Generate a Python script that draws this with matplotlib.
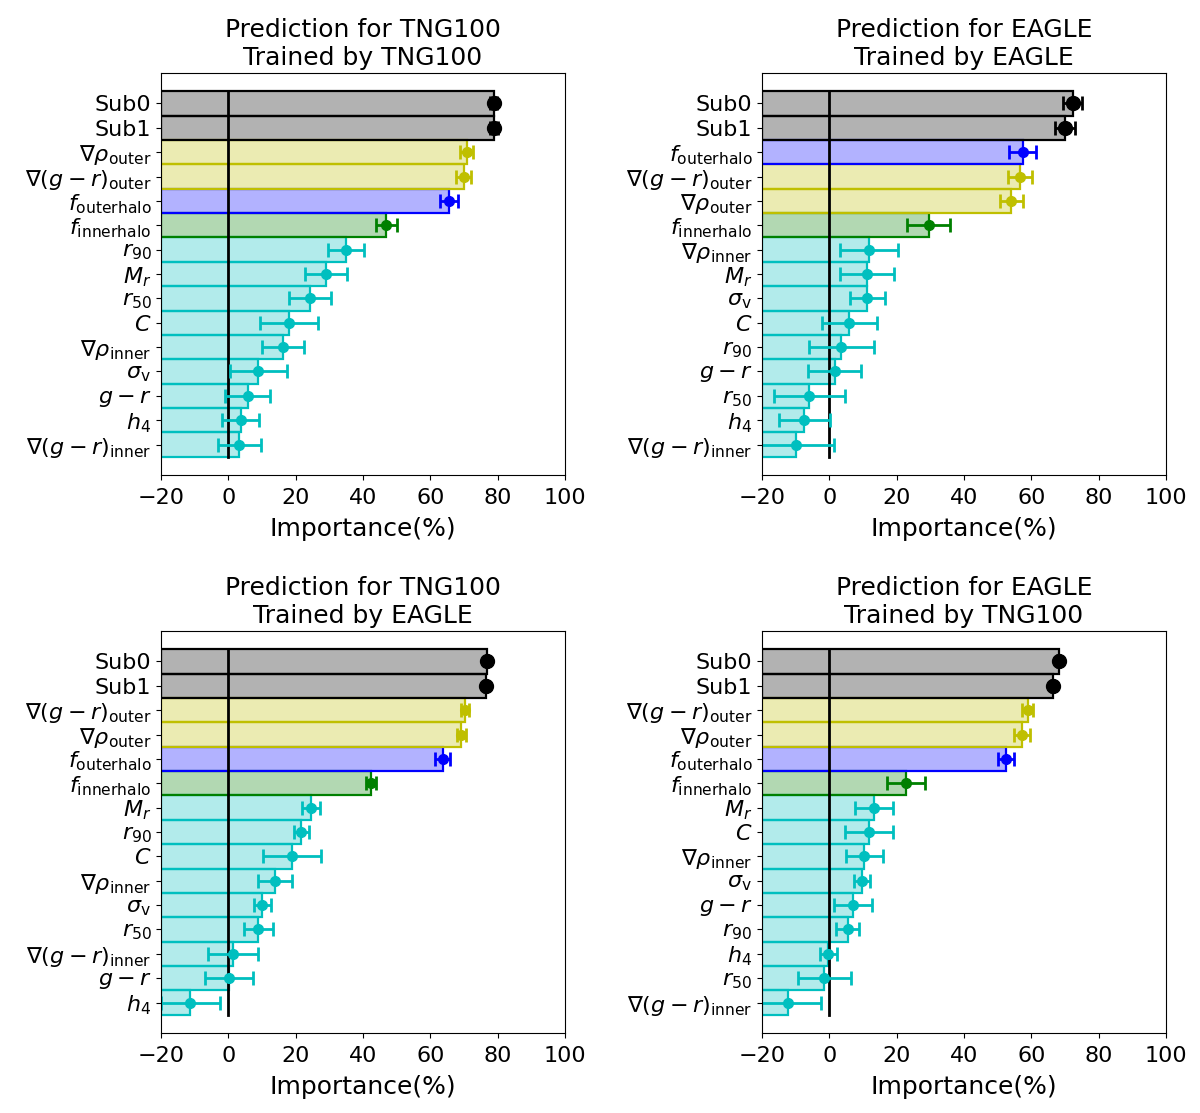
import matplotlib
matplotlib.use("Agg")
import matplotlib.pyplot as plt
from matplotlib.colors import to_rgba

# feature keys -> tick text and colour
TEX = {
    'sub0': 'Sub0',
    'sub1': 'Sub1',
    'grho_out': r'$\nabla\rho_{\rm outer}$',
    'ggr_out': r'$\nabla(g-r)_{\rm outer}$',
    'f_out': r'$f_{\rm outerhalo}$',
    'f_in': r'$f_{\rm innerhalo}$',
    'r90': r'$r_{90}$',
    'Mr': r'$M_r$',
    'r50': r'$r_{50}$',
    'C': r'$C$',
    'grho_in': r'$\nabla\rho_{\rm inner}$',
    'sigv': r'$\sigma_{\rm v}$',
    'gr': r'$g-r$',
    'h4': r'$h_4$',
    'ggr_in': r'$\nabla(g-r)_{\rm inner}$',
}
COL = {'sub0': 'k', 'sub1': 'k', 'grho_out': 'y', 'ggr_out': 'y',
       'f_out': 'b', 'f_in': 'g'}

# top to bottom, as shown in each panel
feat_tt = ['sub0', 'sub1', 'grho_out', 'ggr_out', 'f_out', 'f_in', 'r90', 'Mr',
           'r50', 'C', 'grho_in', 'sigv', 'gr', 'h4', 'ggr_in']
imp_tt = [78.8, 78.8, 70.8, 69.9, 65.5, 46.9, 35.0, 29.0, 24.3, 18.0, 16.3, 8.9, 5.8, 3.6, 3.3]
err_tt = [1.0, 1.2, 2.0, 2.3, 2.7, 3.1, 5.4, 6.1, 6.3, 8.7, 6.2, 8.5, 6.7, 5.6, 6.3]

feat_ee = ['sub0', 'sub1', 'f_out', 'ggr_out', 'grho_out', 'f_in', 'grho_in', 'Mr',
           'sigv', 'C', 'r90', 'gr', 'r50', 'h4', 'ggr_in']
imp_ee = [72.3, 70.0, 57.4, 56.7, 54.0, 29.5, 11.8, 11.2, 11.2, 5.9, 3.6, 1.6, -5.9, -7.4, -9.8]
err_ee = [2.8, 3.1, 4.1, 3.5, 3.4, 6.3, 8.5, 8.0, 5.2, 8.2, 9.6, 7.9, 10.6, 7.5, 11.2]

feat_te = ['sub0', 'sub1', 'ggr_out', 'grho_out', 'f_out', 'f_in', 'Mr', 'r90',
           'C', 'grho_in', 'sigv', 'r50', 'ggr_in', 'gr', 'h4']
imp_te = [76.8, 76.4, 70.3, 69.2, 63.6, 42.4, 24.5, 21.6, 18.8, 13.8, 10.1, 8.9, 1.4, 0.2, -11.3]
err_te = [0.4, 0.4, 1.2, 1.3, 2.1, 1.5, 2.7, 2.2, 8.6, 5.1, 2.6, 4.4, 7.5, 7.0, 8.8]

feat_et = ['sub0', 'sub1', 'ggr_out', 'grho_out', 'f_out', 'f_in', 'Mr', 'C',
           'grho_in', 'sigv', 'gr', 'r90', 'h4', 'r50', 'ggr_in']
imp_et = [68.1, 66.3, 58.9, 57.1, 52.5, 22.8, 13.2, 11.7, 10.4, 9.8, 7.1, 5.4, -0.3, -1.5, -12.2]
err_et = [0.4, 0.4, 1.7, 2.4, 2.4, 5.6, 5.6, 7.1, 5.6, 2.4, 5.6, 3.5, 2.6, 7.8, 9.8]

titles = ['Prediction for TNG100\nTrained by TNG100',
          'Prediction for EAGLE\nTrained by EAGLE',
          'Prediction for TNG100\nTrained by EAGLE',
          'Prediction for EAGLE\nTrained by TNG100']

XMIN, XMAX = -20, 100

fig = plt.figure(figsize=(12, 11.13), dpi=100)
positions = [[0.1342, 0.5732, 0.3367, 0.3612],
             [0.6350, 0.5732, 0.3367, 0.3612],
             [0.1342, 0.0719, 0.3367, 0.3612],
             [0.6350, 0.0719, 0.3367, 0.3612]]
panels = [(feat_tt, imp_tt, err_tt), (feat_ee, imp_ee, err_ee),
          (feat_te, imp_te, err_te), (feat_et, imp_et, err_et)]

for pos, (feats, imps, errs), title in zip(positions, panels, titles):
    ax = fig.add_axes(pos)
    n = len(feats)
    # draw from the bottom row upwards so upper bar edges sit on top
    for i in range(n - 1, -1, -1):
        y = n - 1 - i
        c = COL.get(feats[i], 'c')
        ax.barh(y, imps[i] - XMIN, left=XMIN, height=1.0,
                color=to_rgba(c, 0.3), edgecolor=c, linewidth=1.6)
    ax.plot([0, 0], [-0.5, n - 0.5], color='k', lw=2)
    for i in range(n - 1, -1, -1):
        y = n - 1 - i
        c = COL.get(feats[i], 'c')
        ms = 10 if c == 'k' else 7
        ax.errorbar(imps[i], y, xerr=errs[i], fmt='o', color=c, ms=ms,
                    elinewidth=2, capsize=5, capthick=2)
    ax.set_yticks(range(n))
    ax.set_yticklabels([TEX[f] for f in feats[::-1]])
    ax.set_xlim(XMIN, XMAX)
    ax.set_xticks([-20, 0, 20, 40, 60, 80, 100])
    ax.tick_params(labelsize=16)
    ax.tick_params(axis='x', pad=6)
    ax.set_xlabel('Importance(%)', fontsize=18, labelpad=6)
    ax.set_title(title, fontsize=18)

fig.savefig('out.png', dpi=100)
